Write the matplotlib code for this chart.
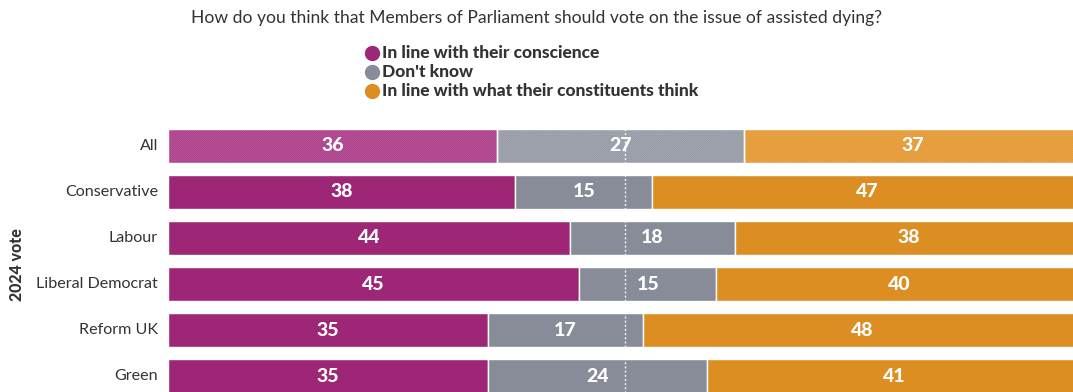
import matplotlib
matplotlib.use("Agg")
import matplotlib.pyplot as plt

# data
groups = ["All", "Conservative", "Labour", "Liberal Democrat", "Reform UK", "Green"]
conscience = [36, 38, 44, 45, 35, 35]
dont_know = [27, 15, 18, 15, 17, 24]
constituents = [37, 47, 38, 40, 48, 41]
series_names = ["In line with their conscience", "Don't know",
                "In line with what their constituents think"]

colors = ["#9D2676", "#878C98", "#DC8E22"]
hatch_colors = ["#B9559A", "#A3A7B1", "#EAA548"]

plt.rcParams["font.family"] = ["Lato", "DejaVu Sans"]
plt.rcParams["hatch.linewidth"] = 0.8

W, H = 1073, 392
fig = plt.figure(figsize=(W / 100, H / 100), dpi=100)

# axes placed in pixel terms; bars run past the right edge as in the source
x0, x1 = 168, 1082
y_top, y_bot = 123, 399
ax = fig.add_axes([x0 / W, 1 - y_bot / H, (x1 - x0) / W, (y_bot - y_top) / H])
ax.set_xlim(0, 100)
ax.set_ylim(len(groups) - 0.5, -0.5)
ax.axis("off")

bar_h = 0.74
for i, g in enumerate(groups):
    left = 0
    for k, vals in enumerate([conscience, dont_know, constituents]):
        v = vals[i]
        if g == "All":
            ax.barh(i, v, left=left, height=bar_h, color=colors[k],
                    edgecolor=hatch_colors[k], linewidth=0, hatch="/" * 16, zorder=2)
            ax.barh(i, v, left=left, height=bar_h, fill=False,
                    edgecolor="white", linewidth=1.0, zorder=3)
        else:
            ax.barh(i, v, left=left, height=bar_h, color=colors[k],
                    edgecolor="white", linewidth=1.0, zorder=2)
        ax.text(left + v / 2, i, str(v), ha="center", va="center", color="white",
                fontsize=14, fontweight="black", zorder=5)
        left += v

ax.axvline(50, color="white", lw=1, ls=(0, (1.5, 1.5)), alpha=0.9, zorder=4)

# category labels
for i, g in enumerate(groups):
    fig.text(158 / W, 1 - (146 + 46 * i) / H, g, ha="right", va="center",
             fontsize=11.6, color="#333333")
fig.text(17 / W, 1 - 265 / H, "2024 vote", rotation=90, ha="center", va="center",
         fontsize=11.5, fontweight="black", color="#333333")

# title
fig.text(0.5, 1 - 18 / H,
         "How do you think that Members of Parliament should vote on the issue of assisted dying?",
         ha="center", va="center", fontsize=12.6, color="#333333")

# legend
for k, name in enumerate(series_names):
    yc = 1 - (53 + 19 * k) / H
    fig.lines.append(plt.Line2D([372 / W], [yc], transform=fig.transFigure, marker="o",
                                markersize=10, color=colors[k], linestyle="none"))
    fig.text(382 / W, yc, name, ha="left", va="center", fontsize=12.5,
             fontweight="black", color="#333333")

fig.savefig("out.png", dpi=100)
